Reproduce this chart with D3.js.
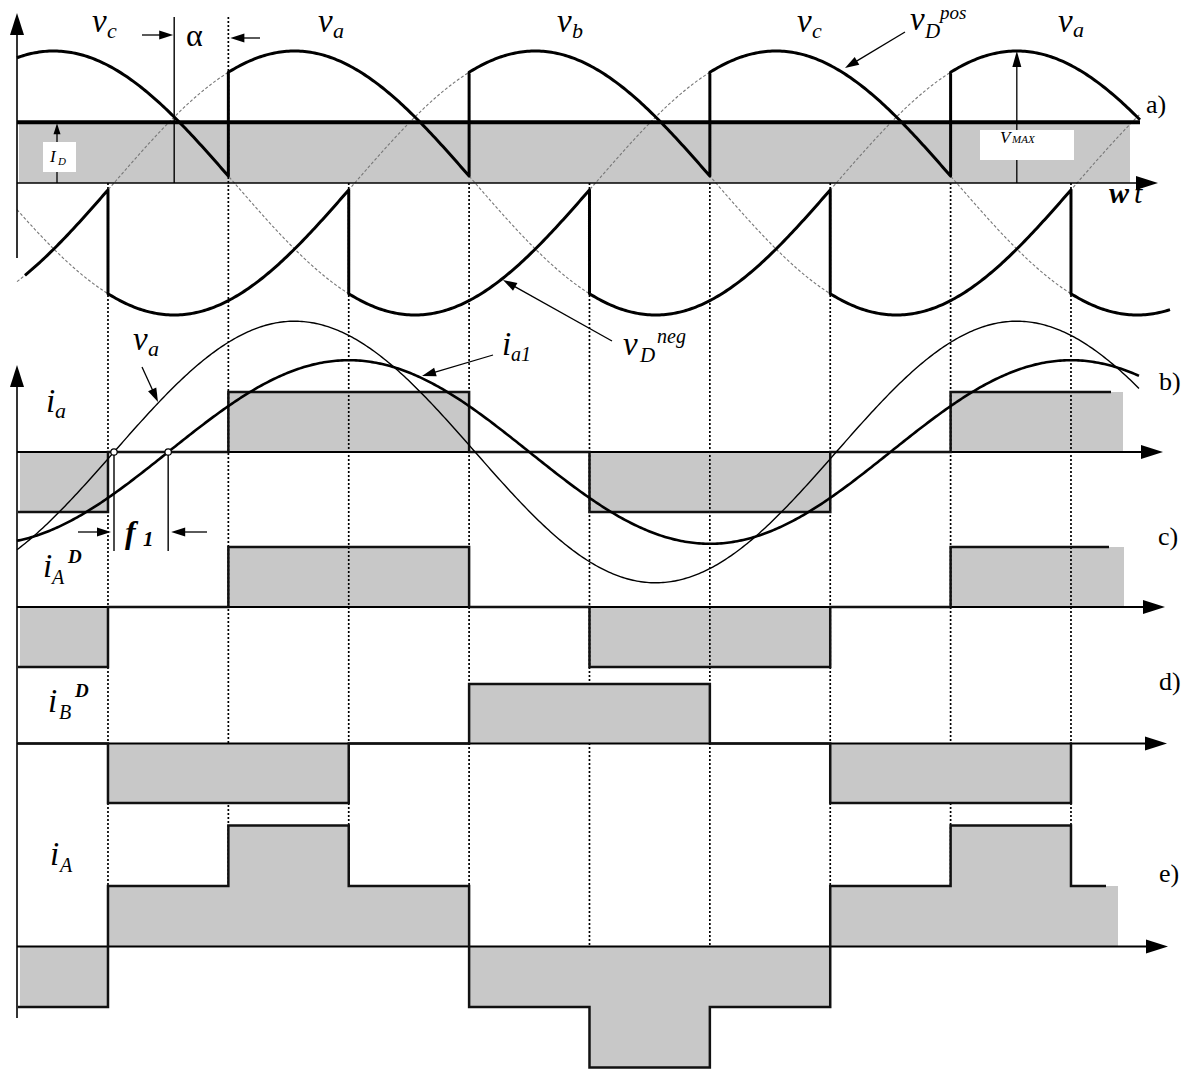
<!DOCTYPE html>
<html><head><meta charset="utf-8">
<script src="https://cdn.jsdelivr.net/npm/d3@7"></script>
<style>body{margin:0;background:#fff}</style>
</head><body>
<svg id="c" width="1196" height="1070"></svg>
<script>
// ---------------- data (angles in electrical degrees, v_a rising zero = 0) ----------------
const phaseNames = ["a", "b", "c"];
const phaseShiftDeg = [0, -120, -240];
const alphaDeg = 27;                                   // firing delay
const naturalCommDeg = 30;                             // v_c / v_a crossing
const commutationDeg = [-3, 57, 117, 177, 237, 297, 357, 417, 477];
const posGroupPhases = ["c", "a", "b", "c", "a"];      // split at commutationDeg[1,3,5,7]
const negGroupPhases = ["a", "b", "c", "a", "b", "c"]; // split at commutationDeg[0,2,4,6,8]
const idLevel = 0.46;                                  // I_D relative to V_MAX (panel a)
const iaLevels  = [-1, 0, 1, 1, 0, -1, -1, 0, 1, 1];
const iADLevels = [-1, 0, 1, 1, 0, -1, -1, 0, 1, 1];
const iBDLevels = [0, -1, -1, 0, 1, 1, 0, -1, -1, 0];
const iALevels  = [-1, 1, 2, 1, -1, -2, -1, 1, 2, 1];
const vaAmpB = 2.18;      // v_a drawn in panel b, in units of I_D
const ia1AmpB = 1.53;     // fundamental i_a1, in units of I_D
const ia1LagDeg = 27;     // phi_1

// ---------------- layout ----------------
const FONT = "'Liberation Serif', 'Times New Roman', Times, serif";
const svg = d3.select("#c");
const x = d3.scaleLinear().domain([0, 360]).range([114, 114 + 722.25]);
const yA = d3.scaleLinear().domain([-1, 1]).range([183 + 132, 183 - 132]);
const panels = [
  {levels: iaLevels,  axisY: 452,   unit: 60,   fillEnd: 1123, lineEnd: 1111, tip: 1163},
  {levels: iADLevels, axisY: 607,   unit: 60,   fillEnd: 1124, lineEnd: 1109, tip: 1165},
  {levels: iBDLevels, axisY: 743.5, unit: 59.5, fillEnd: 1070, lineEnd: 1072, tip: 1167},
  {levels: iALevels,  axisY: 946.5, unit: 60.5, fillEnd: 1118, lineEnd: 1106, tip: 1168}
];
panels.forEach(p => p.y = d3.scaleLinear().domain([0, 1]).range([p.axisY, p.axisY - p.unit]));
const GRAY = "#c8c8c8";
const rad = d => d * Math.PI / 180;
const ph = n => phaseShiftDeg[phaseNames.indexOf(n)];
const sv = (n, th) => Math.sin(rad(th + ph(n)));

const gFill1 = svg.append("g"), gDot = svg.append("g"), gFill2 = svg.append("g"),
      gCurves = svg.append("g"), gAxes = svg.append("g"), gTop = svg.append("g");

// ---------------- panel a ----------------
gFill1.append("rect").attr("x", 19).attr("y", yA(idLevel)).attr("width", 1130 - 19)
  .attr("height", 183 - yA(idLevel)).attr("fill", GRAY);

function stepPoints(p, endPx) {
  const pts = [{th: x.invert(18), l: p.levels[0]}];
  commutationDeg.forEach((c, i) => pts.push({th: c, l: p.levels[i + 1]}));
  pts.push({th: x.invert(endPx), l: p.levels[p.levels.length - 1]});
  return pts;
}
panels.forEach((p, i) => {
  const area = d3.area().curve(d3.curveStepAfter)
    .x(d => x(d.th)).y0(p.axisY).y1(d => p.y(d.l));
  const pts = stepPoints(p, p.fillEnd);
  pts[0].th = x.invert(20);
  (i < 2 ? gFill1 : gFill2).append("path").attr("d", area(pts)).attr("fill", GRAY);
});

// dotted commutation lines
commutationDeg.forEach((c, i) => {
  gDot.append("line").attr("x1", x(c)).attr("x2", x(c))
    .attr("y1", i === 1 ? 17 : 183).attr("y2", 946)
    .attr("stroke", "#000").attr("stroke-width", 1.7).attr("stroke-dasharray", "2,2");
});

// thin three-phase sines in panel a
const thStartA = x.invert(17), thEndA = x.invert(1140);
phaseNames.forEach(n => {
  const pts = d3.range(thStartA, thEndA, 1).concat([thEndA]).map(th => [x(th), yA(sv(n, th))]);
  gCurves.append("path").attr("d", d3.line()(pts)).attr("fill", "none")
    .attr("stroke", "#777").attr("stroke-width", 1.1).attr("stroke-dasharray", "3,2");
});

// I_D line
gCurves.append("line").attr("x1", 17).attr("x2", 1140).attr("y1", yA(idLevel)).attr("y2", yA(idLevel))
  .attr("stroke", "#000").attr("stroke-width", 4);

// envelopes
function envelope(phases, bounds, th0, th1) {
  const pts = [];
  const edges = [th0].concat(bounds).concat([th1]);
  phases.forEach((n, k) => {
    const a = edges[k], b = edges[k + 1];
    d3.range(a, b, 1).concat([b]).forEach(th => pts.push([x(th), yA(sv(n, th))]));
  });
  return pts;
}
const posBounds = commutationDeg.filter((d, i) => i % 2 === 1);
const negBounds = commutationDeg.filter((d, i) => i % 2 === 0);
gCurves.append("path").attr("d", d3.line()(envelope(posGroupPhases, posBounds, x.invert(17), x.invert(1140))))
  .attr("fill", "none").attr("stroke", "#000").attr("stroke-width", 3).attr("stroke-linejoin", "round");
gCurves.append("path").attr("d", d3.line()(envelope(negGroupPhases, negBounds, x.invert(25), x.invert(1170))))
  .attr("fill", "none").attr("stroke", "#000").attr("stroke-width", 3).attr("stroke-linejoin", "round");

// ---------------- axes ----------------
function arrowHead(g, tx, ty, ang, len = 22, hw = 7) {
  const ca = Math.cos(ang), sa = Math.sin(ang);
  const bx = tx - len * ca, by = ty - len * sa;
  g.append("path").attr("d", `M${tx},${ty}L${bx - hw * sa},${by + hw * ca}L${bx + hw * sa},${by - hw * ca}Z`)
    .attr("fill", "#000");
}
function arrow(g, x1, y1, x2, y2, w = 1.3, len = 14, hw = 4.5) {
  const ang = Math.atan2(y2 - y1, x2 - x1);
  g.append("line").attr("x1", x1).attr("y1", y1)
    .attr("x2", x2 - (len - 2) * Math.cos(ang)).attr("y2", y2 - (len - 2) * Math.sin(ang))
    .attr("stroke", "#000").attr("stroke-width", w);
  arrowHead(g, x2, y2, ang, len, hw);
}
gAxes.append("line").attr("x1", 17).attr("x2", 1140).attr("y1", 183).attr("y2", 183).attr("stroke", "#000").attr("stroke-width", 1.6);
arrowHead(gAxes, 1158, 183, 0);
gAxes.append("line").attr("x1", 17).attr("x2", 17).attr("y1", 258).attr("y2", 30).attr("stroke", "#000").attr("stroke-width", 1.6);
arrowHead(gAxes, 17, 13, -Math.PI / 2);
gAxes.append("line").attr("x1", 17).attr("x2", 17).attr("y1", 1018).attr("y2", 380).attr("stroke", "#000").attr("stroke-width", 1.6);
arrowHead(gAxes, 17, 365, -Math.PI / 2);
panels.forEach(p => {
  gAxes.append("line").attr("x1", 17).attr("x2", p.tip - 18).attr("y1", p.axisY).attr("y2", p.axisY)
    .attr("stroke", "#000").attr("stroke-width", 1.8);
  arrowHead(gAxes, p.tip, p.axisY, 0);
  const line = d3.line().curve(d3.curveStepAfter).x(d => x(d.th)).y(d => p.y(d.l));
  gAxes.append("path").attr("d", line(stepPoints(p, p.lineEnd))).attr("fill", "none")
    .attr("stroke", "#111").attr("stroke-width", 2.5);
});

// panel b sinusoids
const pb = panels[0];
const thB0 = x.invert(17), thB1 = x.invert(1139);
const vaPts = d3.range(thB0, thB1, 1).concat([thB1]).map(th => [x(th), pb.y(vaAmpB * Math.sin(rad(th)))]);
const ia1Pts = d3.range(thB0, thB1, 1).concat([thB1]).map(th => [x(th), pb.y(ia1AmpB * Math.sin(rad(th - ia1LagDeg)))]);
gTop.append("path").attr("d", d3.line()(vaPts)).attr("fill", "none").attr("stroke", "#000").attr("stroke-width", 1.4);
gTop.append("path").attr("d", d3.line()(ia1Pts)).attr("fill", "none").attr("stroke", "#000").attr("stroke-width", 2.6);
[0, ia1LagDeg].forEach(th => {
  gTop.append("circle").attr("cx", x(th)).attr("cy", pb.axisY).attr("r", 3.2)
    .attr("fill", "#fff").attr("stroke", "#000").attr("stroke-width", 1.2);
  gTop.append("line").attr("x1", x(th)).attr("x2", x(th)).attr("y1", pb.axisY + 3).attr("y2", 551)
    .attr("stroke", "#000").attr("stroke-width", 1.4);
});
arrow(gTop, 78, 532, x(0) - 3, 532);
arrow(gTop, 207, 532, x(ia1LagDeg) + 3, 532);

// alpha marker
const xNat = x(naturalCommDeg);
gTop.append("line").attr("x1", xNat).attr("x2", xNat).attr("y1", 17).attr("y2", 183).attr("stroke", "#000").attr("stroke-width", 1.4);
arrow(gTop, 142, 35, xNat - 1, 35);
arrow(gTop, 260, 38, x(naturalCommDeg + alphaDeg) + 2, 38);

// I_D arrow + box
arrow(gTop, 57, 183, 57, yA(idLevel) + 1, 1.3, 11, 3.5);
gTop.append("rect").attr("x", 43).attr("y", 142).attr("width", 33).attr("height", 30).attr("fill", "#fff");
// V_MAX arrow + box
arrow(gTop, x(450), 183, x(450), yA(1), 1.3, 16, 4.5);
gTop.append("rect").attr("x", 980).attr("y", 130).attr("width", 94).attr("height", 30).attr("fill", "#fff");

// pointer arrows
arrow(gTop, 905, 32, 845, 68);
arrow(gTop, 612, 341, 503, 280);
arrow(gTop, 493, 355, 422, 376);
arrow(gTop, 142, 367, 158, 402);

// ---------------- labels ----------------
function t(xp, yp, s, size, opts = {}) {
  gTop.append("text").attr("x", xp).attr("y", yp).text(s)
    .attr("font-family", FONT)
    .attr("font-size", size)
    .attr("font-style", opts.italic === false ? "normal" : "italic")
    .attr("font-weight", opts.bold ? "bold" : "normal")
    .attr("fill", "#000");
}
const MS = 33, SS = 22;
// panel a
t(92, 32, "v", MS); t(107, 38, "c", SS);
t(186, 46, "α", 32, {italic: false});
t(318, 32, "v", MS); t(333, 38, "a", SS);
t(557, 32, "v", MS); t(572, 38, "b", SS);
t(797, 32, "v", MS); t(812, 38, "c", SS);
t(910, 30, "v", MS); t(925, 38, "D", 21); t(940, 19, "pos", 19);
t(1058, 32, "v", MS); t(1073, 37, "a", SS);
t(1146, 113, "a)", 26, {italic: false});
t(1109, 203, "w", 30, {bold: true}); t(1134, 203, "t", 30);
t(50, 162, "I", 17); t(58, 165, "D", 11);
t(1000, 143, "V", 17); t(1012, 143, "MAX", 11);
// neg / i_a1
t(623, 355, "v", MS); t(640, 362, "D", 21); t(657, 343, "neg", 20);
t(502, 355, "i", MS); t(511, 361, "a1", 20);
// panel b
t(133, 350, "v", MS); t(148, 356, "a", SS);
t(46, 412, "i", MS); t(55, 418, "a", SS);
t(125, 543, "f", 32, {bold: true}); t(143, 546, "1", 21, {bold: true});
t(1159, 390, "b)", 26, {italic: false});
// panel c
t(43, 577, "i", MS); t(52, 584, "A", 20); t(68, 563, "D", 19, {bold: true});
t(1158, 545, "c)", 26, {italic: false});
// panel d
t(48, 712, "i", MS); t(59, 719, "B", 20); t(75, 697, "D", 19, {bold: true});
t(1159, 690, "d)", 26, {italic: false});
// panel e
t(50, 865, "i", MS); t(60, 872, "A", 20);
t(1159, 882, "e)", 26, {italic: false});
</script>
</body></html>
